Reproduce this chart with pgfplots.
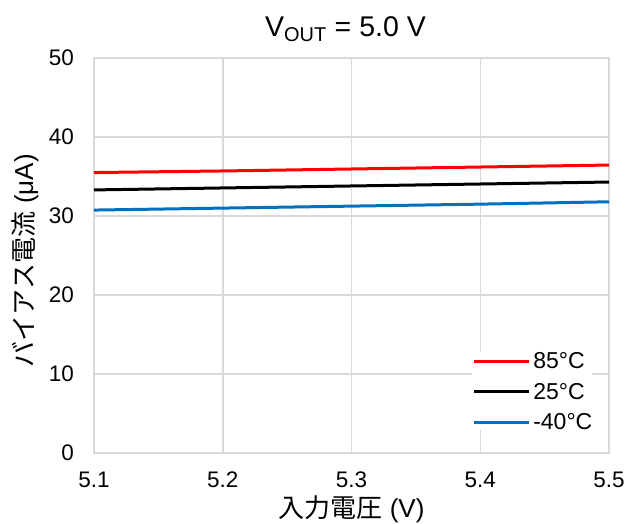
\documentclass[border=0pt]{standalone}
\usepackage{pgfplots}
\pgfplotsset{compat=1.18}
\usepackage{fontspec}
\setmainfont{Liberation Sans}
\newfontfamily\cjk{Noto Sans CJK JP}
\definecolor{gridgray}{HTML}{D9D9D9}
\definecolor{blueL}{HTML}{0070C0}
\begin{document}
\begin{tikzpicture}
\begin{axis}[
  at={(0,0)}, anchor=south west,
  scale only axis, width=515bp, height=395bp,
  xmin=5.1, xmax=5.5, ymin=0, ymax=50,
  xtick={5.1,5.2,5.3,5.4,5.5}, ytick={0,10,20,30,40,50},
  xticklabel style={/pgf/number format/fixed,/pgf/number format/precision=1,/pgf/number format/fixed zerofill,
    anchor=north, inner sep=0pt, yshift=-19bp},
  yticklabel style={anchor=east, inner sep=0pt, xshift=-20bp},
  /pgf/number format/assume math mode=true,
  tick label style={font=\fontsize{22.5bp}{26bp}\selectfont},
  major tick length=0pt,
  grid=major, grid style={gridgray, line width=1.5bp},
  axis line style={gridgray, line width=1.5bp},
  title={V\textsubscript{OUT} = 5.0 V},
  title style={font=\fontsize{28.5bp}{32bp}\selectfont, at={(axis description cs:0.5,1)}, anchor=base, inner sep=0pt, yshift=16bp, xshift=-6bp},
  xlabel={{\cjk 入力電圧} (V)},
  ylabel={{\cjk バイアス電流} (μA)},
  label style={font=\fontsize{26bp}{30bp}\selectfont},
  xlabel style={at={(axis description cs:0.5,0)}, anchor=base, inner sep=0pt, yshift=-64bp},
  ylabel style={at={(axis description cs:-0.134,0.487)}, anchor=center, inner sep=0pt},
  legend style={at={(axis description cs:0.968,0.058)}, anchor=south east, draw=none, fill=white,
    font=\fontsize{23bp}{26bp}\selectfont, row sep=13.5bp, inner sep=0pt,
    nodes={inner sep=0pt, text height=17bp, text depth=0bp}},
  legend cell align=left,
  legend image code/.code={\draw[line width=3bp] (0bp,-1bp) -- (55bp,-1bp);},
]
\addplot[red, line width=3bp] coordinates {(5.1,35.5) (5.2,35.7) (5.3,35.95) (5.4,36.2) (5.5,36.45)};
\addlegendentry{\hspace{3bp}85°C}
\addplot[black, line width=3bp] coordinates {(5.1,33.3) (5.2,33.55) (5.3,33.8) (5.4,34.05) (5.5,34.3)};
\addlegendentry{\hspace{3bp}25°C}
\addplot[blueL, line width=3bp] coordinates {(5.1,30.75) (5.2,31.0) (5.3,31.25) (5.4,31.5) (5.5,31.8)};
\addlegendentry{\hspace{3bp}-40°C}
\end{axis}
\pgfresetboundingbox
\path[use as bounding box] (-94bp,-71bp) rectangle (536bp,453bp);
\end{tikzpicture}
\end{document}
